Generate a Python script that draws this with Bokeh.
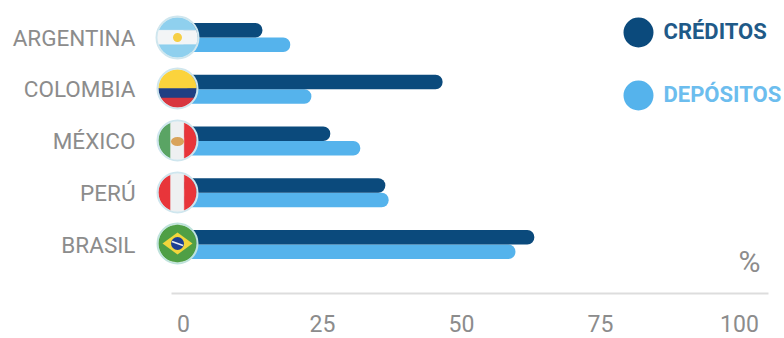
import numpy as np
from bokeh.core.properties import value
from bokeh.embed import file_html
from bokeh.models import ColumnDataSource, FixedTicker, Range1d
from bokeh.plotting import figure
from bokeh.resources import INLINE

countries = ["ARGENTINA", "COLOMBIA", "MÉXICO", "PERÚ", "BRASIL"]
creditos = [14.2, 46.6, 26.4, 36.3, 63.1]
depositos = [19.2, 23.0, 31.8, 36.9, 59.7]
x_ticks = [0, 25, 50, 75, 100]
series_names = ["CRÉDITOS", "DEPÓSITOS"]

DARK = "#0b4a7c"
LIGHT = "#55b3ec"
GREY = "#8c8c8c"

# Pixel geometry of the plotting frame
W, H = 784, 338
LEFT, FRAME_H = 145, 310
PX_PER_UNIT, X0_PX = 5.56, 183
ROW_PX, ROW0_PX = 51.75, 37


def xd(px):
    return (np.asarray(px, dtype=float) - X0_PX) / PX_PER_UNIT


def yd(px):
    return (np.asarray(px, dtype=float) - ROW0_PX) / ROW_PX


p = figure(
    width=W, height=H, output_backend="svg", toolbar_location=None,
    x_range=Range1d(float(xd(LEFT)), float(xd(W))),
    y_range=Range1d(float(yd(FRAME_H)), float(yd(0))),
    min_border_left=LEFT, min_border_right=0, min_border_top=0,
    min_border_bottom=H - FRAME_H,
)
p.outline_line_color = None
p.grid.visible = False
p.background_fill_color = "white"

rows = list(range(len(countries)))
bar_h = 14.5 / ROW_PX
src = ColumnDataSource(dict(
    y_c=[r - bar_h / 2 for r in rows],
    y_d=[r + bar_h / 2 for r in rows],
    creditos=creditos, depositos=depositos,
))
p.hbar(y="y_d", left=0, right="depositos", height=bar_h, source=src,
       fill_color=LIGHT, line_color=None, border_radius=7)
p.hbar(y="y_c", left=0, right="creditos", height=bar_h, source=src,
       fill_color=DARK, line_color=None, border_radius=7)


def flag(cy, radius, stripes, vertical=False, ring="#cfe6ee"):
    """Circular flag built from stripes clipped to a disc."""
    cx = 177
    for a, b, color in stripes:
        t = np.linspace(a, b, 24)
        half = np.sqrt(np.clip(1 - t ** 2, 0, 1))
        u = np.r_[t, t[::-1]] * radius
        v = np.r_[half, -half[::-1]] * radius
        px, py = (cx + u, cy + v) if vertical else (cx + v, cy + u)
        p.patch(xd(px), yd(py), fill_color=color, line_color=color, line_width=0.5)
    p.scatter([float(xd(cx))], [float(yd(cy))], size=2 * radius + 2, marker="circle",
              fill_color=None, line_color=ring, line_width=2)


flag(37, 20, [(-1, -0.36, "#8fd0ee"), (-0.36, 0.36, "#f3f5f6"), (0.36, 1, "#8fd0ee")])
flag(88, 19, [(-1, 0.0, "#fbd33c"), (0.0, 0.5, "#1f3f83"), (0.5, 1, "#d8363f")])
flag(140, 19, [(-1, -0.36, "#5aa464"), (-0.36, 0.36, "#eef0f1"), (0.36, 1, "#e8353a")], vertical=True)
flag(192, 19, [(-1, -0.36, "#e8353a"), (-0.36, 0.36, "#eef0f1"), (0.36, 1, "#e8353a")], vertical=True)
flag(243, 19, [(-1, 1, "#4f9f45")], ring="#bfe3dc")

# Small emblems on the flags
p.scatter([float(xd(177))], [float(yd(37))], size=9, marker="circle", fill_color="#f6cf45", line_color=None)
p.ellipse([float(xd(177))], [float(yd(141))], width=float(13 / PX_PER_UNIT), height=float(9 / ROW_PX),
          fill_color="#d9a35a", line_color=None)
p.patch(xd([162, 177, 192, 177]), yd([243, 232, 243, 254]), fill_color="#f2d63c", line_color=None)
p.scatter([float(xd(177))], [float(yd(243))], size=13, marker="circle", fill_color="#1c3f94", line_color=None)
p.segment(float(xd(171.5)), float(yd(241)), float(xd(182.5)), float(yd(245)), line_color="#e8eef2", line_width=1.5)

# Baseline rule above the tick labels
p.segment(float(xd(171)), float(yd(293)), float(xd(768)), float(yd(293)),
          line_color="#dddddd", line_width=2)

# Legend and unit note
p.scatter([float(xd(638))] * 2, [float(yd(32)), float(yd(95))], size=30, marker="circle",
          fill_color=[DARK, LIGHT], line_color=None)
p.text([float(xd(663))] * 2, [float(yd(31)), float(yd(94))], text=series_names,
       text_color=["#1f5a88", "#6cbdee"], text_font=value("Roboto"), text_font_style="bold",
       text_font_size="22px", text_baseline="middle", text_align="left")
p.text([float(xd(749))], [float(yd(261))], text=["%"], text_color=GREY,
       text_font=value("Roboto"), text_font_size="30px",
       text_baseline="middle", text_align="center")

# Axes
p.xaxis.ticker = FixedTicker(ticks=x_ticks)
p.xaxis.axis_line_color = None
p.xaxis.major_tick_line_color = None
p.xaxis.major_tick_out = 0
p.xaxis.minor_tick_line_color = None
p.xaxis.minor_tick_out = 0
p.xaxis.major_label_standoff = 4
p.xaxis.major_label_text_color = GREY
p.xaxis.major_label_text_font = "Roboto"
p.xaxis.major_label_text_font_size = "23px"

p.yaxis.ticker = FixedTicker(ticks=rows)
p.yaxis.major_label_overrides = dict(zip(rows, countries))
p.yaxis.axis_line_color = None
p.yaxis.major_tick_line_color = None
p.yaxis.minor_tick_line_color = None
p.yaxis.major_label_standoff = 4
p.yaxis.major_label_text_color = GREY
p.yaxis.major_label_text_font = "Roboto"
p.yaxis.major_label_text_font_size = "22.5px"

open("out.html", "w").write(file_html(p, INLINE))
